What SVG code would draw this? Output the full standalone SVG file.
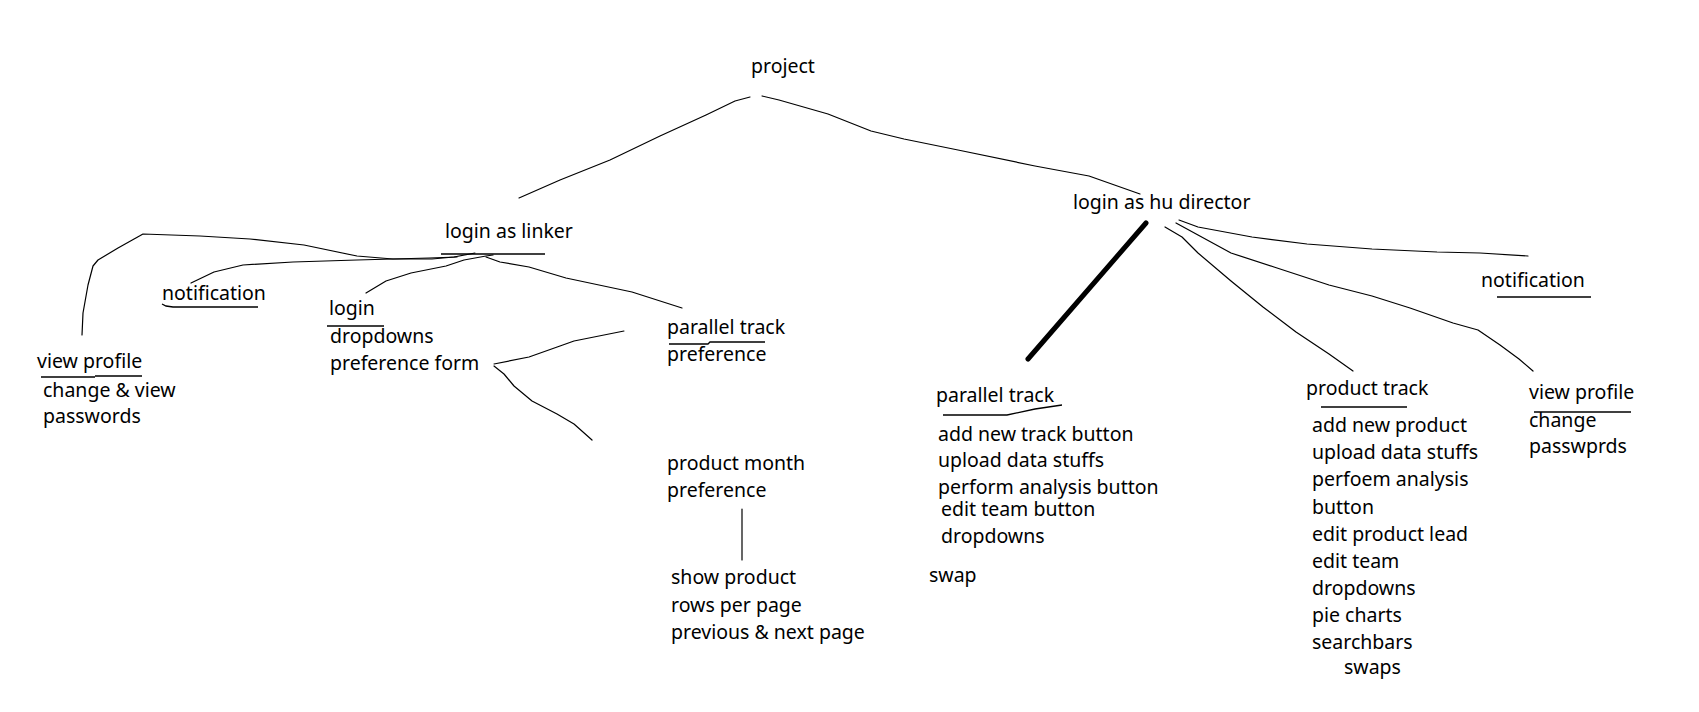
<svg xmlns="http://www.w3.org/2000/svg" width="1699" height="712" viewBox="0 0 1699 712">
<style>
text{font-family:"Noto Sans","Open Sans","DejaVu Sans",sans-serif;font-size:19.5px;fill:#000}
.c{fill:none;stroke:#000;stroke-width:1.2;stroke-linejoin:round;stroke-linecap:round}
.u{fill:none;stroke:#000;stroke-width:1.3}
.thick{fill:none;stroke:#000;stroke-width:5;stroke-linecap:round}
</style>
<rect width="1699" height="712" fill="#fff"/>
<g id="connectors">
<path class="c" d="M750,97 L735,101 L706,115 L660,136 L610,160 L560,180 L519,198"/>
<path class="c" d="M762,96 L779,100 L828,114 L871,131 L904,139 L958,150 L1035,166 L1089,176 L1140,194"/>
<path class="c" d="M82,335 L83,313 L88,285 L93,266 L98,260 L118,248 L143,234 L200,236 L250,239 L304,245 L357,256 L393,259 L432,259 L454,257 L475,253"/>
<path class="c" d="M191,283 L214,272 L243,265 L293,262 L357,260 L429,258 L457,257"/>
<path class="c" d="M366,293 L386,281 L411,273 L446,266 L464,260 L486,256 L493,255"/>
<path class="c" d="M486,257 L500,262 L529,267 L566,278 L632,292 L682,308"/>
<path class="c" d="M494,364 L529,357 L560,346 L574,341 L624,331"/>
<path class="c" d="M494,366 L504,374 L514,386 L532,401 L557,414 L574,424 L592,440"/>
<path class="c" d="M742,509 L742,560"/>
<path class="thick" d="M1146,223 L1028,359"/>
<path class="c" d="M1165,227 L1182,237 L1198,253 L1231,281 L1263,307 L1296,332 L1329,354 L1353,371"/>
<path class="c" d="M1176,223 L1198,235 L1231,253 L1274,267 L1329,285 L1372,296 L1410,308 L1453,323 L1478,330 L1500,345 L1519,359 L1533,371"/>
<path class="c" d="M1179,220 L1198,227 L1252,237 L1307,244 L1372,249 L1437,252 L1480,253 L1528,256"/>
</g>
<g id="project"><text x="751" y="73">project</text></g>
<g id="login-as-linker"><text x="445" y="238">login as linker</text><path class="u" d="M441,254 H545"/></g>
<g id="login-as-hu-director"><text x="1073" y="209">login as hu director</text></g>
<g id="notification-left"><text x="162" y="300">notification</text><path class="u" d="M162,304 L166,306 L173,307 H258"/></g>
<g id="login-group"><text x="329" y="315">login</text><path class="u" d="M327,326 H384"/>
<text x="330" y="343">dropdowns</text><text x="330" y="370">preference form</text></g>
<g id="view-profile-left"><text x="37" y="368">view profile</text><path class="u" d="M41,377 H95 M95,376 H142"/>
<text x="43" y="397">change &amp; view</text><text x="43" y="423">passwords</text></g>
<g id="parallel-track-left"><text x="667" y="334">parallel track</text><path class="u" d="M669,344 H708 L710,342 H765"/>
<text x="667" y="361">preference</text></g>
<g id="product-month"><text x="667" y="470">product month</text><text x="667" y="497">preference</text></g>
<g id="show-product"><text x="671" y="584">show product</text><text x="671" y="612">rows per page</text><text x="671" y="639">previous &amp; next page</text></g>
<g id="parallel-track-right"><text x="936" y="402">parallel track</text><path class="u" d="M943,415 H1007 L1035,409 L1062,405"/>
<text x="938" y="441">add new track button</text><text x="938" y="467">upload data stuffs</text><text x="938" y="494">perform analysis button</text>
<text x="941" y="516">edit team button</text><text x="941" y="543">dropdowns</text><text x="929" y="582">swap</text></g>
<g id="product-track"><text x="1306" y="395">product track</text><path class="u" d="M1321,407 H1407"/>
<text x="1312" y="432">add new product</text><text x="1312" y="459">upload data stuffs</text><text x="1312" y="486">perfoem analysis</text>
<text x="1312" y="514">button</text><text x="1312" y="541">edit product lead</text><text x="1312" y="568">edit team</text>
<text x="1312" y="595">dropdowns</text><text x="1312" y="622">pie charts</text><text x="1312" y="649">searchbars</text><text x="1344" y="674">swaps</text></g>
<g id="notification-right"><text x="1481" y="287">notification</text><path class="u" d="M1497,297 H1591"/></g>
<g id="view-profile-right"><text x="1529" y="399">view profile</text><path class="u" d="M1534,412 H1631"/>
<text x="1529" y="427">change</text><text x="1529" y="453">passwprds</text></g>
</svg>
